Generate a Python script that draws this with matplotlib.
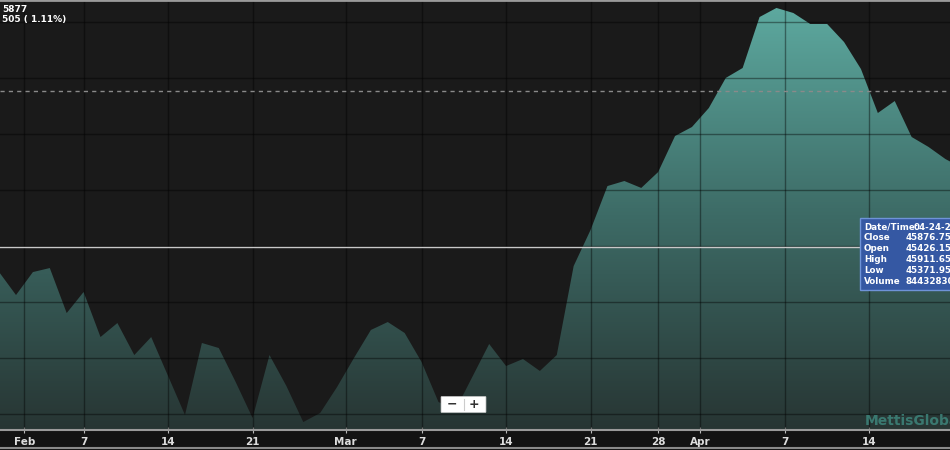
import numpy as np
import matplotlib
matplotlib.use('Agg')
import matplotlib.pyplot as plt
from matplotlib.colors import LinearSegmentedColormap
from matplotlib.patches import FancyBboxPatch, Rectangle
from matplotlib.lines import Line2D

# closing values, one per trading day
closes = [45653, 45448, 45653, 45689, 45287, 45475, 45073, 45198, 44912, 45073,
          44725, 44377, 45020, 44975, 44671, 44350, 44912, 44636, 44314, 44395,
          44627, 44886, 45136, 45207, 45109, 44850, 44493, 44421, 44716, 45011,
          44814, 44877, 44770, 44912, 45707, 46029, 46421, 46466, 46404, 46546,
          46868, 46948, 47118, 47386, 47475, 47930, 48011, 47966, 47868, 47868,
          47707, 47466, 47073, 47180, 46859, 46770, 46662, 46582]

tick_pos = [1.5, 5, 10, 15, 20.5, 25, 30, 35, 39, 41.5, 46.5, 51.5]
tick_labels = ['Feb', '7', '14', '21', 'Mar', '7', '14', '21', '28', 'Apr', '7', '14']
grid_levels = [44385, 44885, 45385, 45885, 46385, 46885, 47385, 47885]

last_close = 45876.7
prev_level = 47270
tip_rows = [('Date/Time:', '04-24-2017'), ('Close', '45876.75'), ('Open', '45426.15'),
            ('High', '45911.65'), ('Low', '45371.95'), ('Volume', '84432830')]

narrow = ['Liberation Sans Narrow', 'DejaVu Sans']

x = np.arange(len(closes))
y = np.array(closes)

fig = plt.figure(figsize=(9.5, 4.5), dpi=100, facecolor='#131313')
ax = fig.add_axes([0, 20 / 450, 1, 430 / 450])
ax.set_facecolor('#1a1a1a')

xmin, xmax = 0.053, 56.27
ymin, ymax = 44243, 48082
ax.set_xlim(xmin, xmax)
ax.set_ylim(ymin, ymax)

# gradient area fill
poly = ax.fill_between(x, y, ymin, color='none', lw=0)
cmap = LinearSegmentedColormap.from_list('g', ['#273533', '#3d6b66', '#5eaba1'])
grad = np.linspace(0, 1, 256).reshape(-1, 1)
im = ax.imshow(grad, cmap=cmap, aspect='auto', origin='lower',
               extent=[xmin, xmax, ymin, ymax], zorder=1)
im.set_clip_path(poly.get_paths()[0], transform=ax.transData)

# grid
for g in grid_levels:
    ax.axhline(g, color='black', alpha=0.4, lw=1, zorder=2)
for t in tick_pos:
    ax.axvline(t, color='black', alpha=0.4, lw=1, zorder=2)

ax.axhline(last_close, color='#c8c8c8', lw=1, zorder=3)
ax.axhline(prev_level, color='#8a8a8a', lw=1, ls=(0, (3, 3)), zorder=3)

ax.set_yticks([])
ax.set_xticks(tick_pos)
ax.set_xticklabels(tick_labels, family=narrow, fontsize=7.5, fontweight='bold', color='#dddddd')
ax.tick_params(axis='x', direction='inout', length=4, color='#bbbbbb', pad=3)
for s in ['left', 'right']:
    ax.spines[s].set_visible(False)
ax.spines['top'].set_color('#9a9a9a')
ax.spines['top'].set_linewidth(2)
ax.spines['bottom'].set_color('#9a9a9a')
ax.spines['bottom'].set_linewidth(1.5)

fig.add_artist(Line2D([0, 1], [0.004, 0.004], color='#8a8a8a', lw=1.5))

# top-left info
fig.text(0.002, 0.978, '5877', color='white', fontsize=6.5, fontweight='bold', va='center', family=narrow)
fig.text(0.002, 0.956, '505 ( 1.11%)', color='white', fontsize=6.5, fontweight='bold', va='center', family=narrow)

# zoom control
fig.add_artist(FancyBboxPatch((442 / 950, 1 - 412 / 450), 43 / 950, 15 / 450,
                              boxstyle='round,pad=0.001', fc='white', ec='#cccccc', lw=0.5))
fig.add_artist(Line2D([464 / 950, 464 / 950], [1 - 410 / 450, 1 - 399 / 450], color='#cccccc', lw=0.8))
fig.text(452 / 950, 1 - 404 / 450, '−', color='#333333', fontsize=9, fontweight='bold', ha='center', va='center')
fig.text(474 / 950, 1 - 404 / 450, '+', color='#333333', fontsize=9, fontweight='bold', ha='center', va='center')

# tooltip
fig.add_artist(Rectangle((860 / 950, 1 - 290 / 450), 100 / 950, 72 / 450,
                         fc='#3558a3', ec='#6f93d8', lw=1))
for k, (lab, val) in enumerate(tip_rows):
    yy = 1 - (227 + k * 10.8) / 450
    fig.text(864 / 950, yy, lab, color='white', fontsize=6.3, fontweight='bold', va='center', family=narrow)
    vx = 914 if k == 0 else 906
    fig.text(vx / 950, yy, val, color='white', fontsize=6.3, fontweight='bold', va='center', family=narrow)

# watermark
fig.text(865 / 950, 1 - 421 / 450, 'MettisGlobal', color='#3f8a80', fontsize=10,
         fontweight='bold', va='center', alpha=0.8)

fig.savefig('out.png', dpi=100, facecolor=fig.get_facecolor())
